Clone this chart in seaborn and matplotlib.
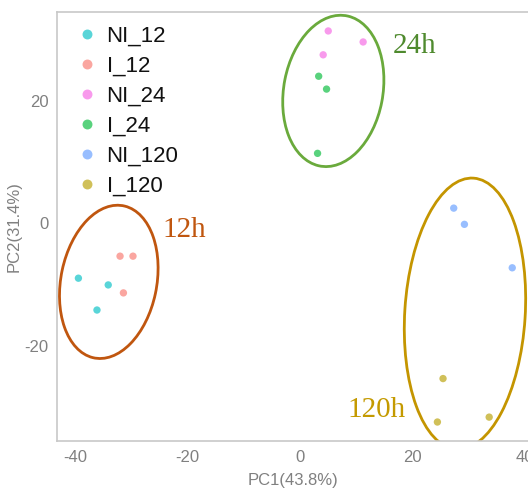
import seaborn as sns
import matplotlib.pyplot as plt
import pandas as pd
from matplotlib.patches import Ellipse

# PCA scores
groups = ['NI_12', 'I_12', 'NI_24', 'I_24', 'NI_120', 'I_120']
pc1 = [-39.4, -34.1, -36.1,
       -32.0, -29.7, -31.4,
       5.0, 11.2, 4.1,
       3.3, 4.7, 3.1,
       27.3, 29.2, 37.7,
       25.4, 24.4, 33.6]
pc2 = [-9.0, -10.1, -14.2,
       -5.4, -5.4, -11.4,
       31.4, 29.6, 27.5,
       24.0, 21.9, 11.4,
       2.45, -0.2, -7.3,
       -25.4, -32.5, -31.7]
group = [g for g in groups for _ in range(3)]
colors = ['#00BFC4', '#F8766D', '#F564E3', '#00BA38', '#619CFF', '#B79F00']

# time-point ellipses: label, centre, width, height, angle, colour, text pos, text colour
clusters = [
    ('12h', (-34.0, -9.6), 17.0, 25.4, -13, '#c0560f', (-24.5, -2.3), '#c0560f'),
    ('24h', (5.9, 21.6), 17.6, 25.0, -12, '#6aaa3c', (16.5, 27.8), '#4f8a2e'),
    ('120h', (29.3, -14.8), 21.4, 44.4, -4, '#c49500', (8.5, -31.7), '#c49a00'),
]

df = pd.DataFrame({'PC1': pc1, 'PC2': pc2, 'group': group})

sns.set_style('white')
plt.rcParams['font.family'] = ['Liberation Sans', 'DejaVu Sans']
plt.rcParams['axes.unicode_minus'] = False

fig = plt.figure(figsize=(5.28, 4.93), dpi=100)
ax = fig.add_axes([0.108, 0.1055, 0.892, 0.8702])

sns.scatterplot(data=df, x='PC1', y='PC2', hue='group', hue_order=groups,
                palette=colors, s=28, alpha=0.65, linewidth=0, ax=ax)

for name, c, w, h, ang, col, tpos, tcol in clusters:
    ax.add_patch(Ellipse(c, w, h, angle=ang, fill=False, edgecolor=col, lw=2.0))
    ax.text(tpos[0], tpos[1], name, color=tcol, fontsize=21,
            family=['Liberation Serif', 'DejaVu Serif'], va='baseline', ha='left')

ax.set_xlim(-43.2, 40.5)
ax.set_ylim(-35.6, 34.5)
ax.set_xticks([-40, -20, 0, 20, 40])
ax.set_yticks([-20, 0, 20])

for side in ['left', 'bottom', 'top']:
    ax.spines[side].set_color('#c8c8c8')
    ax.spines[side].set_linewidth(1.2)
ax.spines['right'].set_visible(False)

ax.tick_params(axis='both', colors='#c0c0c0', labelcolor='#808080',
               labelsize=12, length=3, width=1, direction='out')
ax.tick_params(axis='y', pad=3)
ax.set_xlabel('PC1(43.8%)', color='#808080', fontsize=12, labelpad=6)
ax.set_ylabel('PC2(31.4%)', color='#808080', fontsize=12, labelpad=2)

leg = ax.legend(loc='upper left', bbox_to_anchor=(0.006, 1.0), frameon=False,
                fontsize=16, markerscale=1.35, handlelength=1.2,
                handletextpad=0.3, labelspacing=0.41, borderaxespad=0.2)
for t in leg.get_texts():
    t.set_color('#111111')

fig.savefig('out.png', dpi=100)
